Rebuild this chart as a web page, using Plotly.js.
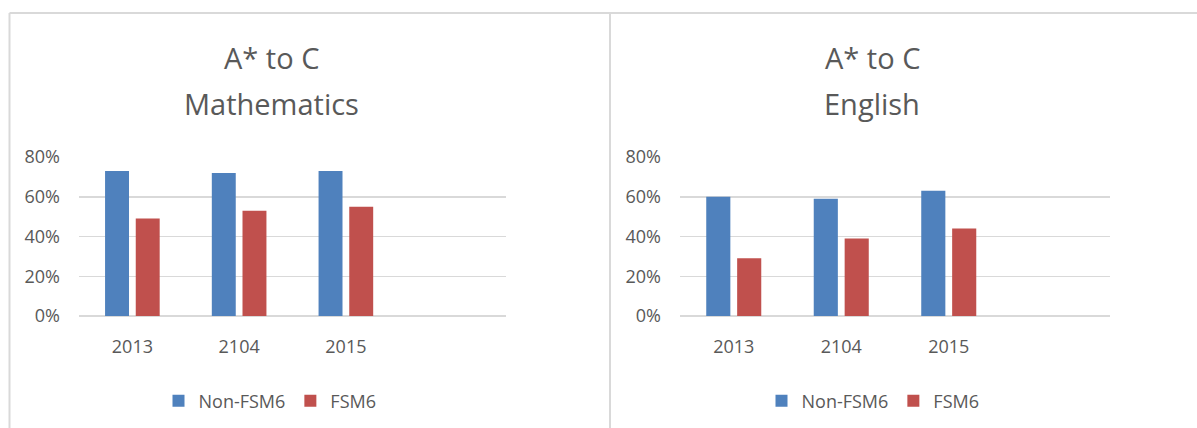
<!DOCTYPE html>
<html>
<head>
<meta charset="utf-8">
<script src="https://cdn.plot.ly/plotly-3.0.1.min.js"></script>
<style>html,body{margin:0;padding:0;background:#fff;}#chart{width:1197px;height:428px;}</style>
</head>
<body>
<div id="chart"></div>
<script>
// Data
const categories = ['2013', '2104', '2015', ' '];
const mathNonFSM6 = [0.73, 0.72, 0.73, null];
const mathFSM6 = [0.49, 0.53, 0.55, null];
const engNonFSM6 = [0.60, 0.59, 0.63, null];
const engFSM6 = [0.29, 0.39, 0.44, null];
const seriesNames = ['Non-FSM6', 'FSM6'];
const titlesMath = ['A* to C', 'Mathematics'];
const titlesEng = ['A* to C', 'English'];
const yTicks = [0, 0.2, 0.4, 0.6, 0.8];

const BLUE = '#4f81bd';
const RED = '#c0504d';
const TXT = '#595959';
const GRID = '#d9d9d9';
const FONT = 'Open Sans, sans-serif';

const W = 1197, H = 428;
const px = x => x / W;
const py = y => 1 - y / H;

const traces = [
  {type: 'bar', x: categories, y: mathNonFSM6, name: seriesNames[0], marker: {color: BLUE}, xaxis: 'x', yaxis: 'y', legend: 'legend'},
  {type: 'bar', x: categories, y: mathFSM6, name: seriesNames[1], marker: {color: RED}, xaxis: 'x', yaxis: 'y', legend: 'legend'},
  {type: 'bar', x: categories, y: engNonFSM6, name: seriesNames[0], marker: {color: BLUE}, xaxis: 'x2', yaxis: 'y2', legend: 'legend2'},
  {type: 'bar', x: categories, y: engFSM6, name: seriesNames[1], marker: {color: RED}, xaxis: 'x2', yaxis: 'y2', legend: 'legend2'}
];

const xBase = {
  type: 'category', showgrid: false, zeroline: false, showline: false, ticks: '',
  tickfont: {family: FONT, size: 18, color: TXT}, ticklabelstandoff: 18, fixedrange: true
};
const yBase = {
  range: [0, 0.8], tickvals: yTicks, tickformat: '.0%', showgrid: true, gridcolor: GRID, gridwidth: 1.5,
  zeroline: true, zerolinecolor: GRID, zerolinewidth: 1.5, showline: false, ticks: '',
  tickfont: {family: FONT, size: 18, color: TXT}, ticklabelstandoff: 18, fixedrange: true
};

const legendBase = {
  orientation: 'h', xanchor: 'center', yanchor: 'middle',
  font: {family: FONT, size: 18, color: TXT}, bgcolor: 'rgba(0,0,0,0)', itemwidth: 30, tracegroupgap: 0
};

function titleAnn(text, xc, yc) {
  return {text: text, xref: 'paper', yref: 'paper', x: px(xc), y: py(yc), xanchor: 'center', yanchor: 'middle',
          showarrow: false, font: {family: FONT, size: 29, color: TXT}};
}

function line(x0, y0, x1, y1) {
  return {type: 'line', xref: 'paper', yref: 'paper', x0: px(x0), y0: py(y0), x1: px(x1), y1: py(y1),
          line: {color: GRID, width: 2}, layer: 'below'};
}

const layout = {
  width: W, height: H,
  margin: {l: 0, r: 0, t: 0, b: 0, pad: 0},
  paper_bgcolor: '#ffffff', plot_bgcolor: '#ffffff',
  barmode: 'group', bargap: 0.425, bargroupgap: 0.22,
  xaxis: Object.assign({}, xBase, {domain: [px(79), px(506)], anchor: 'y'}),
  yaxis: Object.assign({}, yBase, {domain: [py(316), py(157)], anchor: 'x'}),
  xaxis2: Object.assign({}, xBase, {domain: [px(680), px(1110)], anchor: 'y2'}),
  yaxis2: Object.assign({}, yBase, {domain: [py(316), py(157)], anchor: 'x2'}),
  legend: Object.assign({}, legendBase, {x: px(270), y: py(401)}),
  legend2: Object.assign({}, legendBase, {x: px(873), y: py(401)}),
  annotations: [
    titleAnn(titlesMath[0], 271, 58), titleAnn(titlesMath[1], 271, 103),
    titleAnn(titlesEng[0], 872, 58), titleAnn(titlesEng[1], 872, 103)
  ],
  shapes: [
    line(9.5, 13, 1197, 13),
    line(9.5, 13, 9.5, 428),
    line(610, 13, 610, 428)
  ],
  showlegend: true
};

Plotly.newPlot('chart', traces, layout, {displayModeBar: false, staticPlot: true});
</script>
</body>
</html>
